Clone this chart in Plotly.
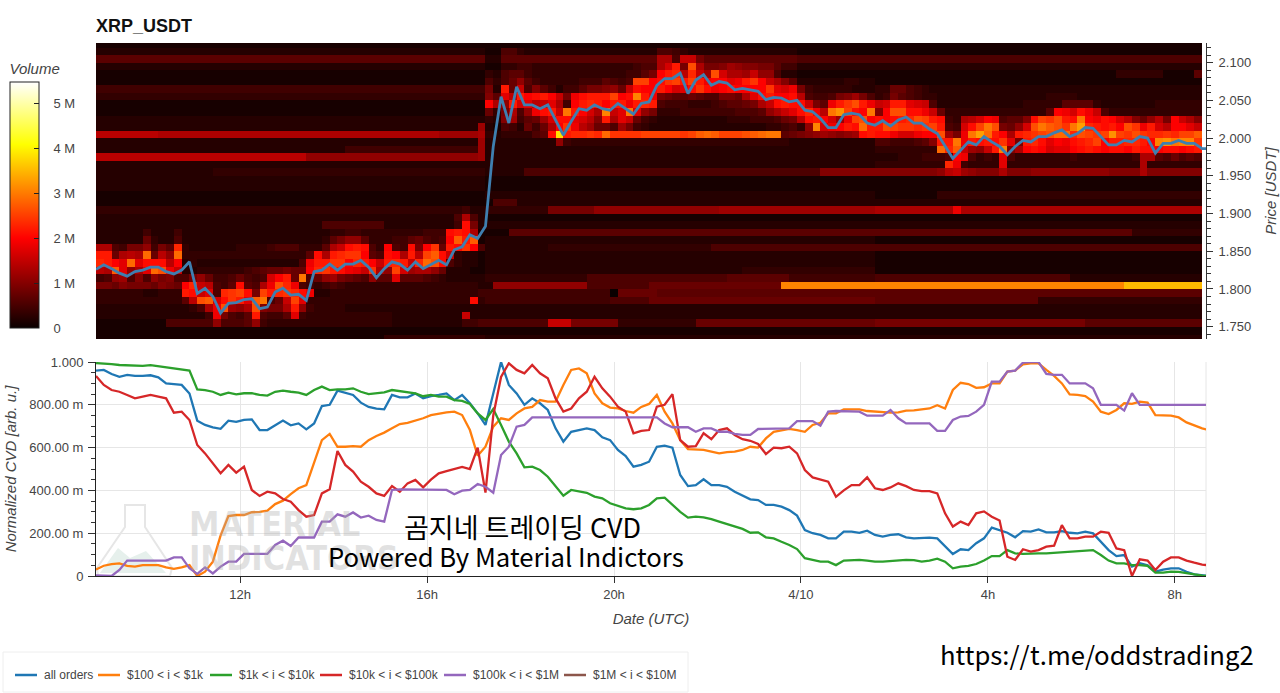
import pandas as pd
import plotly.graph_objects as go

W, H = 1280, 693

# ---------- data ----------
series_start = "2025-04-09 08:55"
step_minutes = 10
price_bins = [round(2.12 - k * 0.01, 2) for k in range(40)]   # lower edge of each row, top to bottom
level_unit = 110000.0   # volume per level of the base-36 cell characters

rows_a = [
    "1" * 50, "2" * 50, "6" * 50, "2" * 50, "1" * 50, "1" * 50, "4" * 50, "3" * 50, "1" * 50, "1" * 50,
    "2" * 50, "2" * 49 + "b", "d" * 8 + "c" * 36 + "b" * 5 + "c", "2" * 49 + "b",
    "2" * 32 + "4" * 17 + "b", "d" * 27 + "a" * 22 + "b", "2" * 50, "2" * 15 + "3" * 35,
    "2" * 50, "2" * 50, "1" * 50, "1" * 50, "3" * 47 + "422", "2" * 46 + "5c52",
    "2" * 29 + "5" * 8 + "2" * 9 + "4j82",
    "2222224222 4222222222 2222222222 3344333333 33444jkjc1",
    "2222227322 5222222222 2222222223 68aa633344 67545ipkp1",
    "cc5488a486 l322222233 3345553336 cejkj53i54 j8im7kjmi5",
    "kk7cdcq7da q333333333 33333336jc klmmi65jic kdnpje3221",
    "lkigqgjjjd i232222222 2222225hkk mmilkieklk elqoj53221",
    "dcpgacgqoh e223333334 5677877ilm kjhgemcanf bcca722211",
    "45ab595a89 558a744575 45fik7r57a b8765a66g6 6654322222",
    "8879888798 7iled546j6 5cholh5434 5433333333 3333333332",
    "3333332233 3kjeg5lmnj 8nklmljh22 3333333333 3333333334",
    "3333333333 36dopfjmkg pr57eng333 3333333333 33333333j3",
    "2222222222 2235chobac o988cka433 3322222222 2222222222",
    "2222222222 22224h8546 k5446g4333 3333333322 2222222e22",
    "1111111115 55555a5556 a433333333 3333333322 2222222445",
    "1" * 50, "1" * 37 + "3" * 13,
]
rows_b = [
    "1" * 50,
    "1155322222 2222222222 2255432222 2222222222 1111111111",
    "2266666666 6666666666 66cc5ee866 6666666666 5555555555",
    "1133443333 3333333334 55cfk8oc88 9ba9988644 2222222222",
    "3256643333 3333333344 68ikldlebo fccbeaa522 1111111111",
    "5357a64333 334446545n nijmnknkhi ighkmiec96 2222223322",
    "82k7e59642 446889a7ej iikifgjmjh ijiiiimgfh 8433333222",
    "96gdkijkie 8hjkkknijs kh87667655 887cgjkiij d544589b85",
    "icakfgdegc 4iklkikkhk lk54443334 56678cejkj je86hkmokh",
    "738c5ahjke rkifcsegrg a833344444 445556aceg jlhdrtnjir",
    "329b467bfj jgfd9kcge7 4322222222 2333444578 djkifbhnoi",
    "21542747ci mhdb775b84 3222222222 2222223345 3asfhikjqk",
    "32333356jz kllmlqmmmm nnnnnmnpqp nnnopqrr67 89aba9abjk",
    "222222222a 4333333333 3333333333 3333333332 2222222222",
    "2" * 50, "2" * 50, "2" * 50,
    "2" * 5 + "5" * 38 + "9" * 7,
    "1" * 50, "1" * 50, "2" * 50,
    "1" + "5" * 3 + "2" * 46,
    "3" * 8 + "8" * 6 + "a" * 16 + "b" * 20,
    "1" * 50, "2" * 50,
    "1" * 3 + "6" * 47,
    "2" * 50,
    "2" * 8 + "3" * 21 + "5" * 21,
    "2" * 50, "2" * 50,
    "2" * 33 + "3" * 17,
    "3" * 13 + "5" * 18 + "6" * 8 + "4" * 11,
    "2" + "a" * 12 + "5" * 8 + "7" * 17 + "s" * 12,
    "4" * 16 + "0" + "7" * 5 + "6" * 28,
    "4" * 16 + "5" * 5 + "7" * 29,
    "2" * 50, "2" * 50,
    "5" * 8 + "e" * 3 + "8" * 6 + "3" * 10 + "7" * 23,
    "1" * 50, "2" * 50,
]
rows_c = [
    "1" * 42, "1" * 42, "5" * 42, "2" * 42,
    "1" * 31 + "3" * 6 + "1" * 4 + "6",
    "1" * 42,
    "3377543222 2222222222 2222222222 2222222222 22",
    "3486543322 2222222222 2233332222 2222222222 22",
    "efkkgfe522 2222222223 3333666632 2222223333 33",
    "9ioojjhe73 3333333333 336ihfjhe5 3333333333 33",
    "jijklonkj4 3cdfih5669 jnmokjrihj ifd97ad8ie c9",
    "konmmlmnk5 4fjnro87af orpomrulkj kiomhkfdii ge",
    "jjhffhiiob 8hruqkickl mnoqqlonmn tnmomllmln np",
    "55444569kk rhkjkjmg8k ljgihjklni kkllkistrs sm",
    "33333333ql pebaeks9ci jifggijkji jjikjjijji jk",
    "2223334445 ih5343g533 3333343333 3334cc6575 65",
    "333333333l h43333g333 3333333333 3333c33333 33",
    "99999999ad eba999c999 aaaaaaaaaa 9999c99999 99",
    "1" * 42, "1" * 42, "1" * 8 + "3" * 34, "2" * 42,
    "c" * 10 + "h" + "c" * 31,
    "1" * 42, "2" * 42,
    "6" * 33 + "3" * 9,
    "1" * 42, "5" * 42, "1" * 42, "1" * 42, "1" * 42,
    "5" * 25 + "2" * 17,
    "s" * 32 + "w" * 10,
    "6" * 42,
    "6" * 21 + "3" * 21,
    "2" * 42, "2" * 42,
    "8" * 27 + "6" * 15,
    "1" * 42, "2" * 42,
]

price = [
    1.826, 1.832, 1.827, 1.821, 1.817, 1.823, 1.825, 1.829, 1.829, 1.823,
    1.820, 1.825, 1.836, 1.794, 1.801, 1.790, 1.768, 1.781, 1.782, 1.786,
    1.787, 1.774, 1.776, 1.796, 1.801, 1.792, 1.793, 1.785, 1.823, 1.825,
    1.833, 1.825, 1.833, 1.833, 1.838, 1.829, 1.815, 1.827, 1.836, 1.833,
    1.825, 1.836, 1.827, 1.833, 1.838, 1.832, 1.852, 1.856, 1.872, 1.867,
    1.883, 1.989, 2.055, 2.020, 2.068, 2.044, 2.044, 2.039, 2.044, 2.024,
    2.004, 2.022, 2.039, 2.037, 2.044, 2.039, 2.037, 2.046, 2.039, 2.032,
    2.046, 2.048, 2.070, 2.079, 2.079, 2.086, 2.059, 2.077, 2.084, 2.070,
    2.075, 2.073, 2.064, 2.066, 2.064, 2.062, 2.051, 2.054, 2.053, 2.048,
    2.050, 2.037, 2.035, 2.026, 2.014, 2.014, 2.031, 2.033, 2.031, 2.020,
    2.017, 2.023, 2.016, 2.024, 2.028, 2.020, 2.020, 2.012, 2.006, 1.989,
    1.973, 1.984, 1.995, 1.991, 2.002, 1.995, 1.989, 1.978, 1.989, 1.997,
    1.995, 2.002, 2.002, 2.007, 2.011, 2.002, 2.006, 2.014, 2.013, 2.002,
    1.991, 1.991, 1.997, 1.995, 2.002, 2.000, 1.980, 1.993, 1.993, 1.997,
    1.993, 1.993, 1.986, 1.986,
]

all_orders = [
    .96, .963, .944, .931, .94, .935, .935, .938, .928, .90,
    .897, .893, .853, .726, .706, .695, .688, .726, .72, .73,
    .732, .682, .682, .706, .726, .704, .713, .685, .713, .794,
    .80, .866, .857, .846, .81, .79, .782, .779, .846, .835,
    .835, .853, .83, .84, .846, .853, .822, .846, .807, .76,
    .706, .86, 1.0, .893, .853, .80, .83, .807, .776, .69,
    .628, .674, .682, .69, .682, .648, .635, .589, .56, .511,
    .519, .534, .604, .609, .60, .472, .42, .425, .452, .425,
    .425, .417, .394, .374, .358, .355, .332, .332, .324, .308,
    .282, .215, .20, .192, .176, .176, .207, .207, .202, .212,
    .192, .184, .192, .195, .181, .176, .179, .179, .176, .137,
    .103, .125, .121, .153, .176, .226, .215, .202, .181, .21,
    .207, .218, .204, .204, .21, .202, .199, .207, .199, .16,
    .121, .093, .098, .044, .06, .05, .02, .03, .036, .036,
    .02, .008, .003, 0,
]
usd_100_1k = [
    .03, .048, .056, .059, .047, .044, .051, .051, .051, .04,
    .033, .04, .051, 0, .02, .067, .19, .28, .285, .285,
    .298, .30, .305, .336, .352, .383, .41, .425, .526, .635,
    .664, .604, .604, .607, .604, .635, .654, .67, .69, .71,
    .716, .726, .737, .752, .76, .765, .768, .752, .682, .562,
    .604, .698, .737, .729, .76, .783, .79, .822, .815, .815,
    .893, .963, .97, .947, .853, .807, .787, .783, .771, .763,
    .79, .804, .846, .768, .713, .635, .593, .592, .589, .581,
    .573, .579, .581, .589, .604, .60, .643, .674, .682, .687,
    .682, .674, .706, .716, .76, .76, .779, .78, .779, .771,
    .768, .768, .763, .765, .773, .774, .78, .783, .798, .783,
    .869, .903, .897, .879, .882, .90, .90, .955, .96, .989,
    .994, .994, .963, .935, .90, .849, .846, .841, .815, .768,
    .757, .776, .807, .804, .815, .81, .752, .749, .749, .741,
    .718, .704, .69, .68,
]
usd_1k_10k = [
    .995, .994, .99, .986, .985, .985, .982, .985, .98, .976,
    .972, .968, .96, .872, .869, .861, .846, .857, .849, .854,
    .854, .846, .843, .861, .866, .861, .857, .846, .869, .885,
    .869, .872, .872, .877, .861, .85, .854, .858, .869, .864,
    .861, .853, .84, .846, .838, .838, .822, .818, .804, .76,
    .729, .78, .706, .628, .573, .508, .511, .495, .464, .417,
    .375, .402, .394, .389, .371, .363, .34, .327, .316, .312,
    .316, .332, .363, .366, .332, .30, .273, .277, .274, .266,
    .254, .243, .234, .22, .202, .204, .181, .176, .16, .145,
    .126, .083, .075, .067, .067, .051, .072, .075, .075, .072,
    .067, .067, .07, .073, .075, .074, .067, .072, .081, .067,
    .036, .044, .047, .056, .072, .093, .093, .121, .106, .103,
    .106, .106, .106, .109, .112, .115, .115, .121, .121, .098,
    .072, .059, .059, .051, .051, .047, .016, .016, .02, .019,
    .012, .008, .002, 0,
]
usd_10k_100k = [
    .935, .893, .869, .861, .846, .83, .838, .846, .838, .83,
    .763, .768, .729, .612, .573, .526, .48, .519, .483, .511,
    .402, .374, .394, .386, .36, .347, .308, .277, .285, .386,
    .405, .584, .519, .488, .441, .417, .386, .374, .42, .394,
    .433, .449, .414, .45, .48, .49, .50, .51, .50, .60,
    .39, .75, .93, .994, .963, .947, .986, .947, .924, .83,
    .768, .783, .83, .861, .931, .877, .838, .791, .768, .667,
    .678, .682, .791, .80, .85, .635, .604, .607, .667, .639,
    .682, .69, .659, .639, .632, .617, .57, .60, .597, .604,
    .573, .495, .461, .452, .441, .37, .40, .425, .425, .461,
    .41, .402, .414, .433, .42, .402, .397, .397, .386, .293,
    .231, .254, .238, .293, .302, .277, .259, .09, .075, .125,
    .114, .121, .137, .142, .238, .176, .176, .184, .184, .207,
    .202, .129, .121, 0, .078, .072, .028, .067, .087, .087,
    .072, .062, .053, .05,
]
usd_100k_1m = [
    .003, 0, 0, .028, .072, .072, .072, .072, .072, .072,
    .087, .087, .036, .01, .04, .012, .044, .067, .067, .103,
    .103, .103, .103, .145, .165, .14, .18, .18, .18, .254,
    .254, .288, .277, .297, .273, .282, .262, .254, .402, .405,
    .405, .405, .405, .405, .405, .402, .382, .399, .402, .43,
    .417, .389, .565, .604, .698, .706, .741, .741, .741, .741,
    .741, .741, .741, .741, .741, .741, .741, .741, .741, .741,
    .741, .741, .741, .713, .695, .695, .695, .674, .69, .69,
    .674, .674, .664, .659, .659, .687, .687, .687, .687, .69,
    .724, .724, .724, .702, .768, .771, .771, .769, .768, .749,
    .749, .749, .776, .737, .713, .713, .713, .713, .678, .678,
    .729, .745, .748, .768, .80, .908, .908, .955, .96, .997,
    1, 1, .944, .94, .94, .90, .90, .90, .877, .80,
    .80, .80, .773, .854, .80, .80, .80, .80, .80, .80,
    .80, .80, .80, .80,
]
usd_1m_10m = [None]

series_names = ["all orders", "$100 < i < $1k", "$1k < i < $10k", "$10k < i < $100k", "$100k < i < $1M", "$1M < i < $10M"]
series_colors = ["#1f77b4", "#ff7f0e", "#2ca02c", "#d62728", "#9467bd", "#8c564b"]
legend_line_x = [15, 98, 210, 320, 444, 564]

date_ticks = ["2025-04-09 12:00", "2025-04-09 16:00", "2025-04-09 20:00", "2025-04-10 00:00", "2025-04-10 04:00", "2025-04-10 08:00"]
date_labels = ["12h", "16h", "20h", "4/10", "4h", "8h"]
cvd_ticks = [0, 0.2, 0.4, 0.6, 0.8, 1.0]
cvd_labels = ["0", "200.00 m", "400.00 m", "600.00 m", "800.00 m", "1.000"]
vol_ticks = [0, 1e6, 2e6, 3e6, 4e6, 5e6]
vol_labels = ["\u00a0\u00a0\u00a00", "\u00a0\u00a0\u00a01 M", "\u00a0\u00a0\u00a02 M", "\u00a0\u00a0\u00a03 M", "\u00a0\u00a0\u00a04 M", "\u00a0\u00a0\u00a05 M"]

# ---------- assembly ----------
rows = [(a + b + c).replace(" ", "") for a, b, c in zip(rows_a, rows_b, rows_c)]
bad = [(p, len(r)) for p, r in zip(price_bins, rows) if len(r) != 142]
assert len(rows) == 40 and not bad, bad
z_grid = [[int(ch, 36) * level_unit for ch in r] for r in reversed(rows)]
y_edges = [round(1.73 + k * 0.01, 2) for k in range(41)]

t0 = pd.Timestamp(series_start)
t_line = [t0 + pd.Timedelta(minutes=step_minutes * k) for k in range(144)]
t_edges = [t0 + pd.Timedelta(minutes=step_minutes * k) for k in range(143)]
t_end = t0 + pd.Timedelta(minutes=1425)
for s in (price, all_orders, usd_100_1k, usd_1k_10k, usd_10k_100k, usd_100k_1m):
    assert len(s) == 144, len(s)


def px(v):
    return v / W


def py(v):
    return 1 - v / H


FONT = "Liberation Sans"
GREY = "#444444"
italic = dict(family=FONT, size=15, color=GREY, style="italic")
hot = [[0, "rgb(10,0,0)"], [0.365, "rgb(255,0,0)"], [0.746, "rgb(255,255,0)"], [1, "rgb(255,255,255)"]]

fig = go.Figure()
fig.add_trace(go.Heatmap(
    x=t_edges, y=y_edges, z=z_grid, colorscale=hot, zmin=0, zmax=5.48e6, xaxis="x", yaxis="y",
    showlegend=False, hoverongaps=False,
    colorbar=dict(
        x=px(10), xanchor="left", xpad=0, ypad=0, y=py(328), yanchor="bottom",
        lenmode="pixels", len=268, thicknessmode="pixels", thickness=29,
        outlinecolor="#222222", outlinewidth=1, ticks="inside", ticklen=5, tickcolor="#222222",
        tickvals=vol_ticks, ticktext=vol_labels, tickfont=dict(family=FONT, size=13, color=GREY),
        title=dict(text="Volume", side="top", font=italic),
    ),
))
fig.add_trace(go.Scatter(
    x=t_line, y=price, mode="lines", line=dict(color="#3f7fb0", width=2.8), xaxis="x", yaxis="y",
    showlegend=False, name="Price",
))
for name, color, values in zip(series_names[:5], series_colors, [all_orders, usd_100_1k, usd_1k_10k, usd_10k_100k, usd_100k_1m]):
    fig.add_trace(go.Scatter(x=t_line, y=values, mode="lines", name=name, showlegend=False, line=dict(color=color, width=2.3), xaxis="x2", yaxis="y2"))
fig.add_trace(go.Scatter(x=t_line[:1], y=usd_1m_10m, mode="lines", name=series_names[5], showlegend=False, line=dict(color=series_colors[5], width=2), xaxis="x2", yaxis="y2"))

flask = "M 125 505 L 145 505 L 145 527 L 172 568 L 170 576 L 98 576 L 97 568 L 125 527 Z"
hills = "M 100 573 L 118 548 L 130 558 L 146 551 L 166 573 Z"


def to_paper(path):
    out = []
    parts = path.split()
    k = 0
    while k < len(parts):
        if parts[k] in "MLZ":
            out.append(parts[k])
            k += 1
        else:
            out.append(f"{px(float(parts[k])):.5f},{py(float(parts[k + 1])):.5f}")
            k += 2
    return " ".join(out)


legend_shapes = [dict(type="rect", xref="paper", yref="paper", x0=px(3), x1=px(688), y0=py(652), y1=py(692), line=dict(color="#eeeeee", width=1), fillcolor="white")]
legend_texts = []
for lx, name, color in zip(legend_line_x, series_names, series_colors):
    legend_shapes.append(dict(type="line", xref="paper", yref="paper", x0=px(lx), x1=px(lx + 22), y0=py(675), y1=py(675), line=dict(color=color, width=2.5)))
    legend_texts.append(dict(text=name.replace("<", "&lt;"), x=px(lx + 27), y=py(675), xref="paper", yref="paper", xanchor="left", yanchor="middle", showarrow=False,
                             font=dict(family=FONT, size=12, color=GREY)))

fig.update_layout(
    width=W, height=H, autosize=False, margin=dict(l=0, r=0, t=0, b=0, autoexpand=False),
    paper_bgcolor="white", plot_bgcolor="white", font=dict(family=FONT, color=GREY, size=13), showlegend=False,
    title=dict(text="<b>XRP_USDT</b>", x=px(96), xanchor="left", y=py(26), yanchor="middle", font=dict(family=FONT, size=18, color="#111111")),
    xaxis=dict(domain=[px(96), px(1206)], range=[t0, t_end], type="date", visible=False, anchor="y"),
    yaxis=dict(domain=[py(339), py(43)], range=[1.7337, 2.1261], side="right", anchor="x", showgrid=False, zeroline=False,
               showline=True, linecolor="#333333", linewidth=1, ticks="outside", ticklen=6, tickcolor="#333333",
               dtick=0.05, tick0=1.75, tickformat=".3f", tickfont=dict(family=FONT, size=13, color=GREY), ticklabelstandoff=3,
               minor=dict(ticks="outside", ticklen=4, dtick=0.01, tick0=1.75, tickcolor="#333333"),
               title=dict(text="Price [USDT]", font=italic, standoff=15)),
    xaxis2=dict(domain=[px(96), px(1206)], range=[t0, t_end], type="date", anchor="y2", tickmode="array", tickvals=date_ticks, ticktext=date_labels,
                showgrid=True, gridcolor="#e6e6e6", showline=True, linecolor="#222222", linewidth=1, ticks="outside", ticklen=6, tickcolor="#333333",
                tickfont=dict(family=FONT, size=13, color=GREY), zeroline=False,
                title=dict(text="Date (UTC)", font=italic, standoff=12)),
    yaxis2=dict(domain=[py(576), py(362)], range=[0, 1], anchor="x2", tickmode="array", tickvals=cvd_ticks, ticktext=cvd_labels,
                showgrid=True, gridcolor="#e6e6e6", showline=True, linecolor="#222222", linewidth=1, ticks="outside", ticklen=7, tickcolor="#333333",
                tickfont=dict(family=FONT, size=13, color=GREY), zeroline=False, ticklabelstandoff=2,
                minor=dict(ticks="outside", ticklen=4, dtick=0.05, tick0=0, tickcolor="#333333", showgrid=False),
                title=dict(text="Normalized CVD [arb. u.]", font=italic, standoff=8)),
    shapes=[
        dict(type="path", path=to_paper(hills), xref="paper", yref="paper", fillcolor="#e6f0ec", line=dict(width=0), layer="below"),
        dict(type="path", path=to_paper(flask), xref="paper", yref="paper", fillcolor="rgba(0,0,0,0)", line=dict(color="#e6e6e6", width=2), layer="below"),
        dict(type="line", xref="paper", yref="paper", x0=px(1206), x1=px(1206), y0=py(362), y1=py(576), line=dict(color="#e6e6e6", width=1), layer="below"),
    ] + legend_shapes,
    annotations=[
        dict(text="<b>MATERIAL</b>", x=px(187), y=py(524), xref="paper", yref="paper", xanchor="left", yanchor="middle", showarrow=False,
             font=dict(family="Liberation Sans Narrow, DejaVu Sans Condensed", size=34, color="rgba(170,170,170,0.35)")),
        dict(text="<b>INDICATORS</b>", x=px(187), y=py(558), xref="paper", yref="paper", xanchor="left", yanchor="middle", showarrow=False,
             font=dict(family="Liberation Sans Narrow, DejaVu Sans Condensed", size=34, color="rgba(170,170,170,0.35)")),
        dict(text="곰지네 트레이딩 CVD", x=px(522), y=py(526), xref="paper", yref="paper", xanchor="center", yanchor="middle", showarrow=False,
             font=dict(family="Noto Sans CJK KR", size=27, color="black")),
        dict(text="Powered By Material Indictors", x=px(506), y=py(555), xref="paper", yref="paper", xanchor="center", yanchor="middle", showarrow=False,
             font=dict(family="Noto Sans CJK KR", size=25.7, color="black")),
        dict(text="https://t.me/oddstrading2", x=px(1097), y=py(653), xref="paper", yref="paper", xanchor="center", yanchor="middle", showarrow=False,
             font=dict(family="Noto Sans CJK KR", size=25.7, color="black")),
    ] + legend_texts,
)
fig.write_html("out.html", config={"displayModeBar": False},
               post_script="document.body.style.margin='0';document.documentElement.style.overflow='hidden';")
